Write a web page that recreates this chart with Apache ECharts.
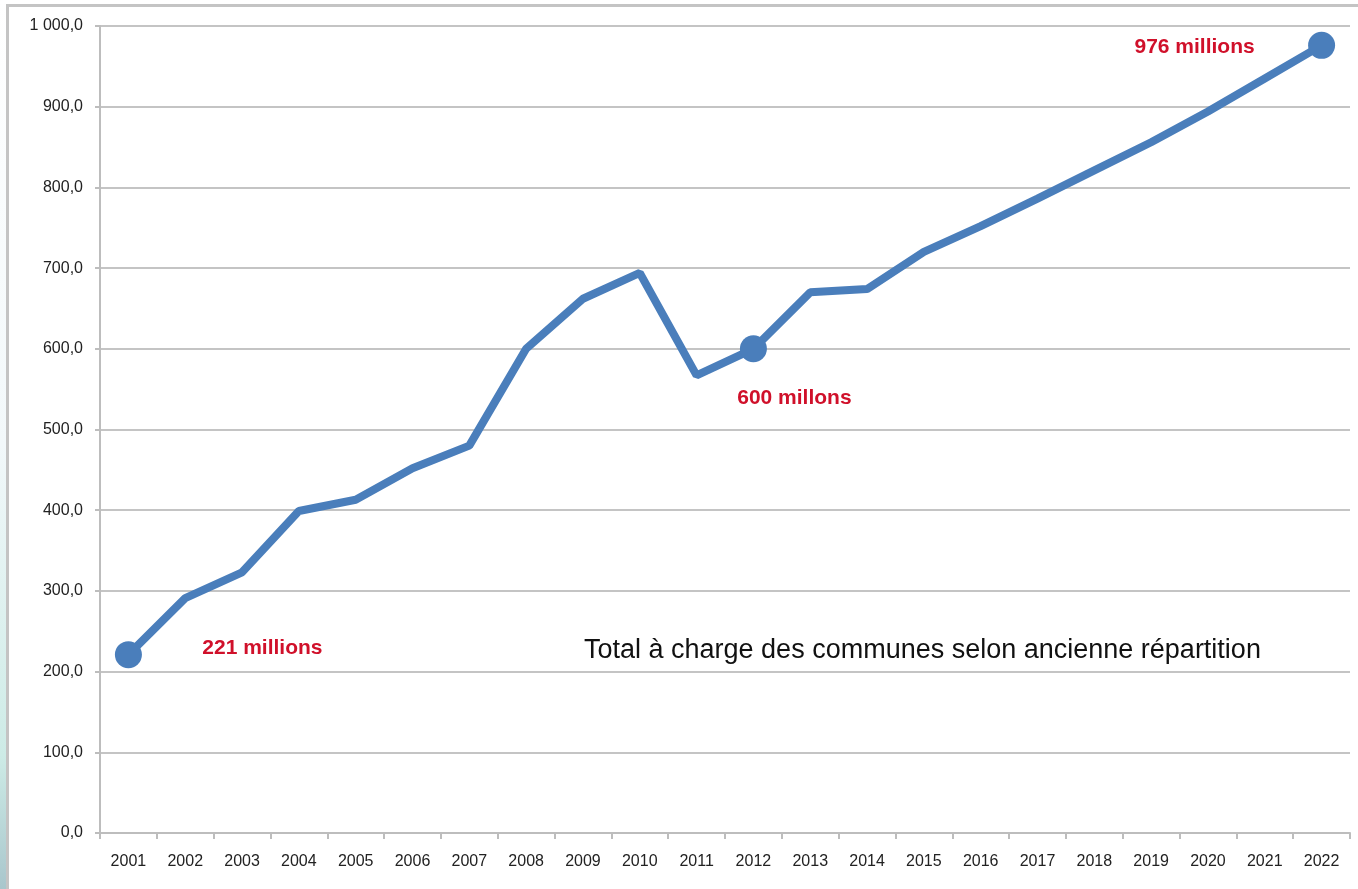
<!DOCTYPE html>
<html>
<head>
<meta charset="utf-8">
<script src="https://cdn.jsdelivr.net/npm/echarts@6/dist/echarts.min.js"></script>
<style>
html,body{margin:0;padding:0;background:#fff;}
#c{width:1358px;height:889px;}
</style>
</head>
<body>
<div id="c"></div>
<script>
var years = ['2001','2002','2003','2004','2005','2006','2007','2008','2009','2010','2011','2012','2013','2014','2015','2016','2017','2018','2019','2020','2021','2022'];
var totals = [221, 291, 323, 399, 413, 452, 480, 600, 662, 694, 567, 600, 670, 674, 720, 752, 786, 821, 856, 894, 935, 976];
var highlightYears = ['2001','2012','2022'];
var highlightLabels = ['221 millions','600 millons','976 millions'];
var annotation = 'Total à charge des communes selon ancienne répartition';

var labelOffsets = {'2001':[134,-6],'2012':[41,49],'2022':[-127,2]};

var seriesData = years.map(function(y,i){
  var k = highlightYears.indexOf(y);
  if (k < 0) return {value: totals[i], symbol: 'none'};
  return {
    value: totals[i],
    symbol: 'circle',
    symbolSize: 27,
    label: {
      show: true,
      formatter: highlightLabels[k],
      position: 'inside',
      offset: labelOffsets[y],
      color: '#d0102a',
      fontFamily: 'Liberation Sans',
      fontWeight: 'bold',
      fontSize: 21
    }
  };
});

var chart = echarts.init(document.getElementById('c'));
chart.setOption({
  backgroundColor: '#fff',
  animation: false,
  grid: {left: 100, right: 8, top: 26, bottom: 56, containLabel: false},
  xAxis: {
    type: 'category',
    data: years,
    boundaryGap: true,
    axisLine: {lineStyle: {color: '#bdbdbd', width: 2}},
    axisTick: {show: true, length: 6, lineStyle: {color: '#bdbdbd', width: 2}},
    axisLabel: {color: '#222', fontFamily: 'Liberation Sans', fontSize: 16, margin: 21, interval: 0}
  },
  yAxis: {
    type: 'value',
    min: 0, max: 1000, interval: 100,
    axisLine: {show: true, lineStyle: {color: '#bdbdbd', width: 2}},
    axisTick: {show: true, length: 5, lineStyle: {color: '#bdbdbd', width: 2}},
    splitLine: {lineStyle: {color: '#c4c4c4', width: 2}},
    axisLabel: {
      color: '#222', fontFamily: 'Liberation Sans', fontSize: 16, margin: 17,
      formatter: function(v){
        var s = v.toFixed(1).replace('.', ',');
        var parts = s.split(',');
        parts[0] = parts[0].replace(/\B(?=(\d{3})+(?!\d))/g, ' ');
        return parts.join(',');
      }
    }
  },
  series: [{
    type: 'line',
    data: seriesData,
    showAllSymbol: true,
    lineStyle: {color: '#4a7ebb', width: 8},
    itemStyle: {color: '#4a7ebb'},
    z: 3
  }],
  graphic: [
    {type: 'rect', left: 0, top: 0, shape: {width: 6, height: 889},
     style: {fill: new echarts.graphic.LinearGradient(0,0,0,1,[
       {offset:0,color:'#ffffff'},{offset:0.5,color:'#f2f8fa'},{offset:0.85,color:'#cdebe6'},{offset:1,color:'#a9c6cc'}])}, silent: true},
    {type: 'line', shape: {x1: 7.5, y1: 5, x2: 7.5, y2: 889}, style: {stroke: '#c4c4c4', lineWidth: 3}, silent: true},
    {type: 'line', shape: {x1: 6, y1: 5.5, x2: 1358, y2: 5.5}, style: {stroke: '#c4c4c4', lineWidth: 3}, silent: true},
    {type: 'text', left: 584, top: 637,
     style: {text: annotation, fill: '#111', fontFamily: 'Liberation Sans', fontSize: 27}, silent: true}
  ]
});
</script>
</body>
</html>
